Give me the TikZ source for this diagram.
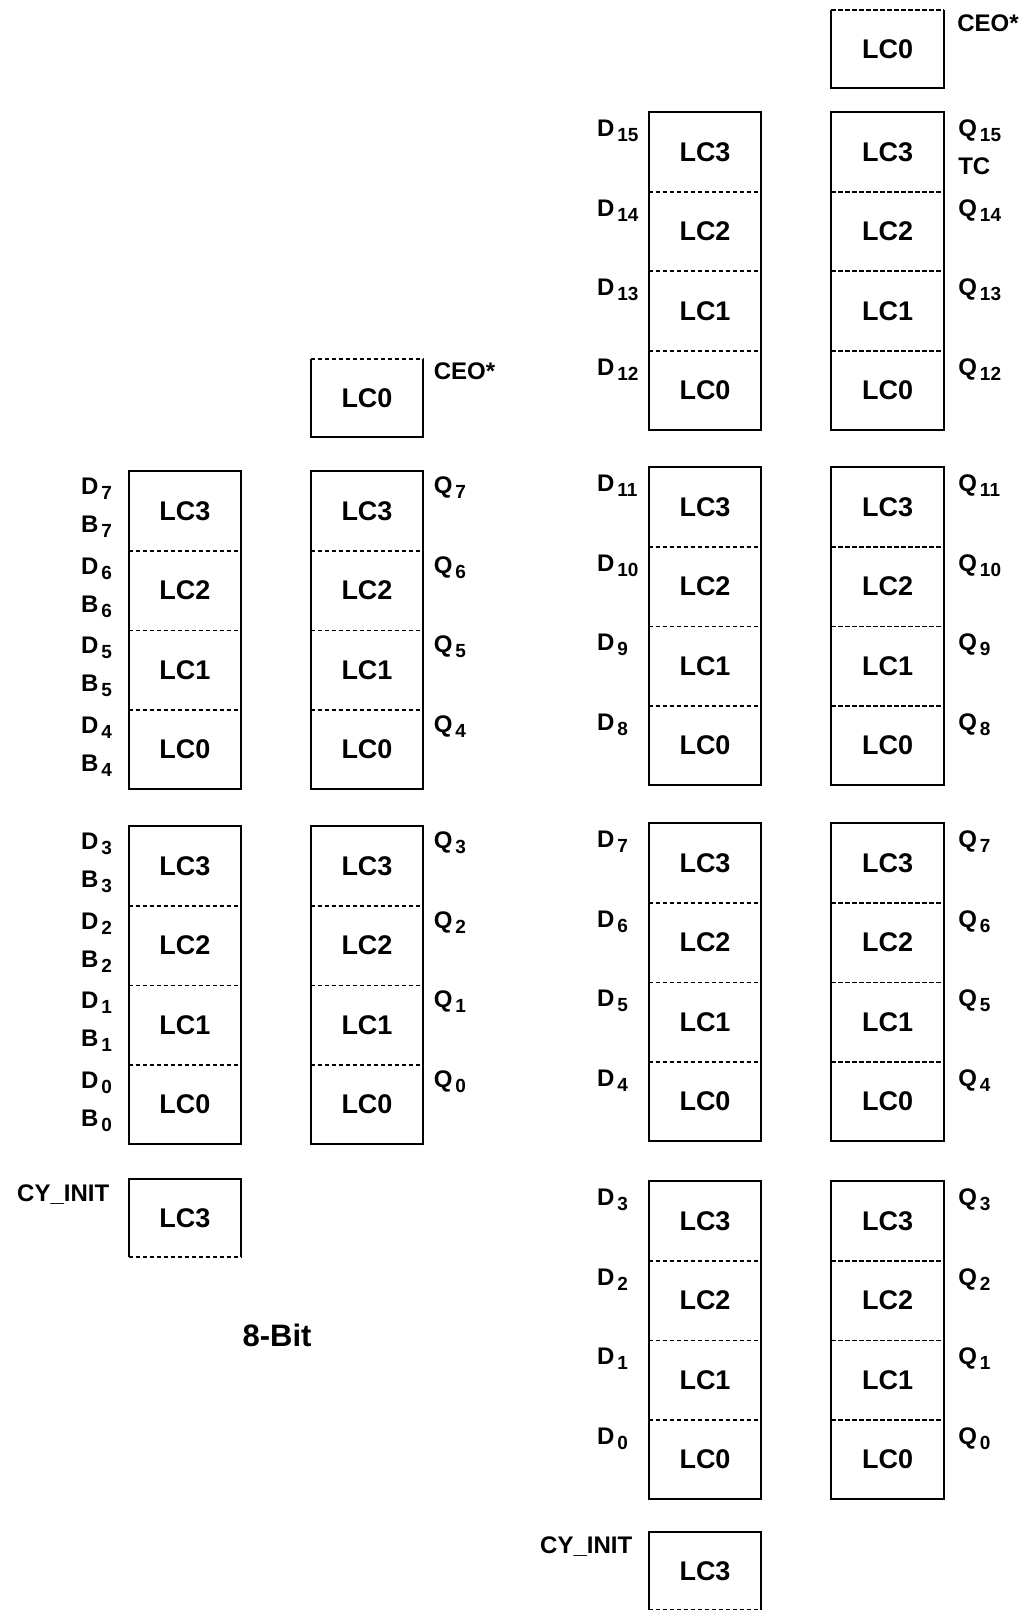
\documentclass[tikz,border=0pt]{standalone}
\usepackage{fontspec}
\setmainfont{Liberation Sans}

\newcommand\sbs[1]{\kern1.5pt\raisebox{-2.5pt}{\fontsize{9.5}{10}\selectfont #1}}

\tikzset{
  lc/.style={minimum width=56pt, minimum height=39.75pt, inner sep=0pt,
    font=\fontsize{13.5}{14}\selectfont\bfseries},
  lone/.style={lc, minimum height=38.5pt},
  pin/.style={inner sep=0pt, font=\fontsize{12}{13}\selectfont\bfseries},
  box/.style={line width=1pt},
  sep/.style={line width=0.9pt, dash pattern=on 2.2pt off 1.3pt},
}

\begin{document}
\begin{tikzpicture}[x=0.5pt, y=-0.5pt]
\useasboundingbox (0,0) rectangle (1024,1610);
% stacks of four logic cells
\foreach \g/\cx/\ty in {in8a/185/471, in8b/185/826, out8a/367/471, out8b/367/826,
    in16a/705/112, in16b/705/467, in16c/705/823, in16d/705/1181,
    out16a/887.5/112, out16b/887.5/467, out16c/887.5/823, out16d/887.5/1181}
{
  \foreach \ci in {0,...,3}
    \node[lc] (\g\ci) at ({\cx},{\ty+(3.5-\ci)*79.5}) {LC\ci};
  \draw[box] (\g3.north west) rectangle (\g0.south east);
  \foreach \ci in {1,2,3}
    \draw[sep] (\g\ci.south west) -- (\g\ci.south east);
}
% single cells: CEO on top, CY_INIT below
\node[lone] (ceo8) at (367,398) {LC0};
\node[lone] (ceo16) at (887.5,49) {LC0};
\node[lone] (cy8) at (185,1218) {LC3};
\node[lone] (cy16) at (705,1571) {LC3};
\foreach \bx in {ceo8,ceo16} {
  \draw[box] (\bx.north west) -- (\bx.south west) -- (\bx.south east) -- (\bx.north east);
  \draw[sep] (\bx.north west) -- (\bx.north east);
}
\foreach \bx in {cy8,cy16} {
  \draw[box] (\bx.south west) -- (\bx.north west) -- (\bx.north east) -- (\bx.south east);
  \draw[sep] (\bx.south west) -- (\bx.south east);
}
% inputs
\foreach \g/\lsb in {in8a/4, in8b/0}
  \foreach \ci in {0,...,3} {
    \pgfmathtruncatemacro\bitno{\lsb+\ci}
    \node[pin, anchor=base west] (d\g\ci) at ([xshift=-24pt, yshift=-12pt]\g\ci.north west) {D\sbs{\bitno}};
    \node[pin, anchor=base west] (b\g\ci) at ([xshift=-24pt, yshift=-31pt]\g\ci.north west) {B\sbs{\bitno}};
  }
\foreach \g/\lsb in {in16a/12, in16b/8, in16c/4, in16d/0}
  \foreach \ci in {0,...,3} {
    \pgfmathtruncatemacro\bitno{\lsb+\ci}
    \node[pin, anchor=base west] (d\g\ci) at ([xshift=-26pt, yshift=-12.5pt]\g\ci.north west) {D\sbs{\bitno}};
  }
% outputs
\foreach \g/\lsb/\dx/\dy in {out8a/4/5/11.5, out8b/0/5/11.5, out16a/12/7/12.5,
    out16b/8/7/12.5, out16c/4/7/12.5, out16d/0/7/12.5}
  \foreach \ci in {0,...,3} {
    \pgfmathtruncatemacro\bitno{\lsb+\ci}
    \node[pin, anchor=base west] (q\g\ci) at ([xshift=\dx pt, yshift=-\dy pt]\g\ci.north east) {Q\sbs{\bitno}};
  }
\node[pin, anchor=base west] (tc) at ([xshift=7pt, yshift=-31.5pt]out16a3.north east) {TC};
\node[pin, anchor=base west] (ceo8txt) at ([xshift=5pt, yshift=-10pt]ceo8.north east) {CEO*};
\node[pin, anchor=base west] (ceo16txt) at ([xshift=6.5pt, yshift=-10.5pt]ceo16.north east) {CEO*};
\node[pin, anchor=base east] (cy8txt) at ([xshift=-9.5pt, yshift=-11pt]cy8.north west) {CY\_INIT};
\node[pin, anchor=base east] (cy16txt) at ([xshift=-8pt, yshift=-10.5pt]cy16.north west) {CY\_INIT};
\node[pin, font=\fontsize{15.5}{16}\selectfont\bfseries] (title8) at (277,1335) {8-Bit};
\end{tikzpicture}
\end{document}
